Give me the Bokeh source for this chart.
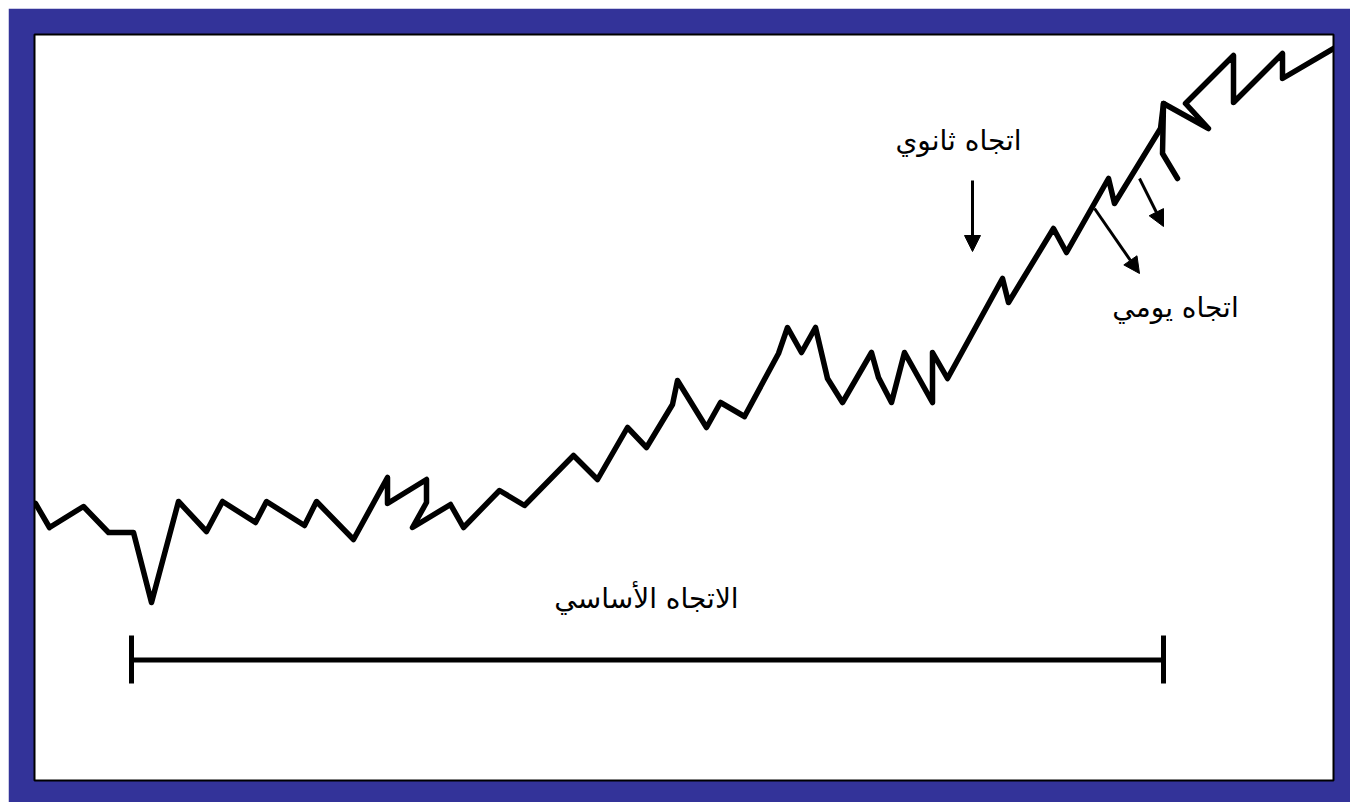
from bokeh.plotting import figure
from bokeh.models import Range1d, Arrow, NormalHead, ColumnDataSource
from bokeh.core.properties import value
from bokeh.embed import file_html
from bokeh.resources import INLINE

# ---- data (time units, price units) ----
day = [1, 15, 49, 74, 99, 117, 144, 172, 188, 221, 232, 270, 282, 319, 353, 353,
       392, 392, 378, 416, 429, 465, 490, 539, 563, 593, 612, 638, 643, 672, 686,
       710, 744, 753, 767, 781, 793, 808, 837, 844, 857, 870, 898, 898, 913, 968,
       974, 1019, 1032, 1074, 1080, 1126, 1129, 1174, 1151, 1199, 1199, 1248,
       1248, 1316]
price = [277, 253, 274, 248, 248, 178, 279, 249, 279, 258, 279, 255, 279, 241,
         303, 277, 301, 278, 253, 276, 253, 290, 275, 325, 301, 353, 333, 376,
         400, 353, 378, 364, 427, 453, 428, 453, 402, 378, 428, 403, 378, 428,
         378, 428, 402, 502, 478, 552, 528, 602, 577, 652, 677, 652, 677, 725,
         678, 727, 702, 742]

spur_day = [1129, 1128, 1143]
spur_price = [677, 627, 602]

# trend arrows (secondary, daily, daily)
arrow_x0 = [938, 1060, 1105]
arrow_y0 = [600, 572, 602]
arrow_x1 = [938, 1105, 1129]
arrow_y1 = [529, 507, 554]

# primary-trend span
span_start = [97]
span_end = [1129]
span_level = [120.5]
tick_x = [97, 1129]
tick_low = [97, 97]
tick_high = [145, 145]

label_text = ["اتجاه ثانوي", "اتجاه يومي", "الاتجاه الأساسي"]
label_x = [924, 1141, 612]
label_y = [640, 473, 182]

p = figure(width=1342, height=794, x_range=Range1d(0, 1299), y_range=Range1d(0, 746),
           output_backend="svg", toolbar_location=None,
           x_axis_location=None, y_axis_location=None,
           min_border_left=26, min_border_right=17, min_border_top=26, min_border_bottom=22)
p.margin = (8, 0, 0, 8)
p.grid.visible = False
p.border_fill_color = "#333399"
p.background_fill_color = "white"
p.outline_line_color = "black"
p.outline_line_width = 2

p.line(day, price, line_color="black", line_width=5.5, line_join="round", line_cap="round")
p.line(spur_day, spur_price, line_color="black", line_width=5.5, line_join="round", line_cap="round")

asrc = ColumnDataSource(dict(x0=arrow_x0, y0=arrow_y0, x1=arrow_x1, y1=arrow_y1))
p.add_layout(Arrow(end=NormalHead(size=16, fill_color="black", line_color="black", line_width=1),
                   x_start="x0", y_start="y0", x_end="x1", y_end="y1", source=asrc,
                   line_color="black", line_width=3))

p.segment(x0=span_start, y0=span_level, x1=span_end, y1=span_level, line_color="black", line_width=5)
p.segment(x0=tick_x, y0=tick_low, x1=tick_x, y1=tick_high, line_color="black", line_width=5)

p.text(x=label_x, y=label_y, text=label_text, text_align="center", text_baseline="middle",
       text_font=value("DejaVu Sans"), text_font_size="28px", text_color="black")

open("out.html", "w").write(file_html(p, INLINE))
